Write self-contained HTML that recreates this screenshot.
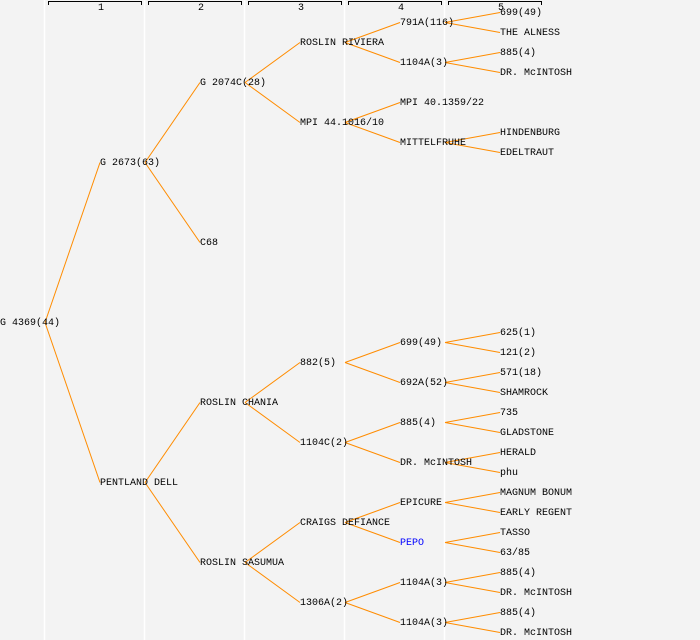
<!DOCTYPE html>
<html><head><meta charset="utf-8"><style>
html,body{margin:0;padding:0;background:#f3f3f3;width:700px;height:640px;overflow:hidden}
svg{display:block}
text{font-family:"Liberation Mono","DejaVu Sans Mono",monospace;font-size:10px;fill:#000}
</style></head><body>
<svg width="700" height="640" viewBox="0 0 700 640" xmlns="http://www.w3.org/2000/svg">
<g stroke="#fff" stroke-width="1.5">
<line x1="44.5" y1="0" x2="44.5" y2="640"/><line x1="144.5" y1="0" x2="144.5" y2="640"/>
<line x1="244.5" y1="0" x2="244.5" y2="640"/><line x1="344.5" y1="0" x2="344.5" y2="640"/>
<line x1="444.5" y1="0" x2="444.5" y2="640"/>
</g>
<g stroke="#000" stroke-width="1" fill="none">
<path d="M48.5 5V1.5H141.5V5"/><path d="M148.5 5V1.5H241.5V5"/><path d="M248.5 5V1.5H341.5V5"/>
<path d="M348.5 5V1.5H441.5V5"/><path d="M448.5 5V1.5H541.5V5"/>
</g>
<g style="font-size:8px" text-anchor="middle">
<text x="101" y="10">1</text><text x="201" y="10">2</text><text x="301" y="10">3</text><text x="401" y="10">4</text><text x="501" y="10">5</text>
</g>
<g id="lines" stroke="#ff8c00" stroke-width="1" fill="none"></g>
<g id="labels" dominant-baseline="central"></g>
</svg>
<script>
var nodes=[
["G 4369(44)",0,322,null],
["G 2673(63)",1,162,0],["PENTLAND DELL",1,482,0],
["G 2074C(28)",2,82,1],["C68",2,242,1],["ROSLIN CHANIA",2,402,2],["ROSLIN SASUMUA",2,562,2],
["ROSLIN RIVIERA",3,42,3],["MPI 44.1016/10",3,122,3],["882(5)",3,362,5],["1104C(2)",3,442,5],["CRAIGS DEFIANCE",3,522,6],["1306A(2)",3,602,6],
["791A(116)",4,22,7],["1104A(3)",4,62,7],["MPI 40.1359/22",4,102,8],["MITTELFRUHE",4,142,8],["699(49)",4,342,9],["692A(52)",4,382,9],["885(4)",4,422,10],["DR. McINTOSH",4,462,10],["EPICURE",4,502,11],["PEPO",4,542,11],["1104A(3)",4,582,12],["1104A(3)",4,622,12],
["699(49)",5,12,13],["THE ALNESS",5,32,13],["885(4)",5,52,14],["DR. McINTOSH",5,72,14],["HINDENBURG",5,132,16],["EDELTRAUT",5,152,16],["625(1)",5,332,17],["121(2)",5,352,17],["571(18)",5,372,18],["SHAMROCK",5,392,18],["735",5,412,19],["GLADSTONE",5,432,19],["HERALD",5,452,20],["phu",5,472,20],["MAGNUM BONUM",5,492,21],["EARLY REGENT",5,512,21],["TASSO",5,532,22],["63/85",5,552,22],["885(4)",5,572,23],["DR. McINTOSH",5,592,23],["885(4)",5,612,24],["DR. McINTOSH",5,632,24]
];
var L=document.getElementById('lines'),T=document.getElementById('labels'),ns="http://www.w3.org/2000/svg";
nodes.forEach(function(n){
 var x=n[1]*100,y=n[2];
 if(n[3]!==null){var p=nodes[n[3]];var l=document.createElementNS(ns,'line');
  l.setAttribute('x1',p[1]*100+45);l.setAttribute('y1',p[2]+0.5);l.setAttribute('x2',x);l.setAttribute('y2',y+0.5);L.appendChild(l);}
 var t=document.createElementNS(ns,'text');t.setAttribute('x',x);t.setAttribute('y',y+1.5);
 if(n[0]==="PEPO")t.setAttribute('style','fill:#0000ff');
 t.textContent=n[0];T.appendChild(t);
});
</script>
</body></html>
